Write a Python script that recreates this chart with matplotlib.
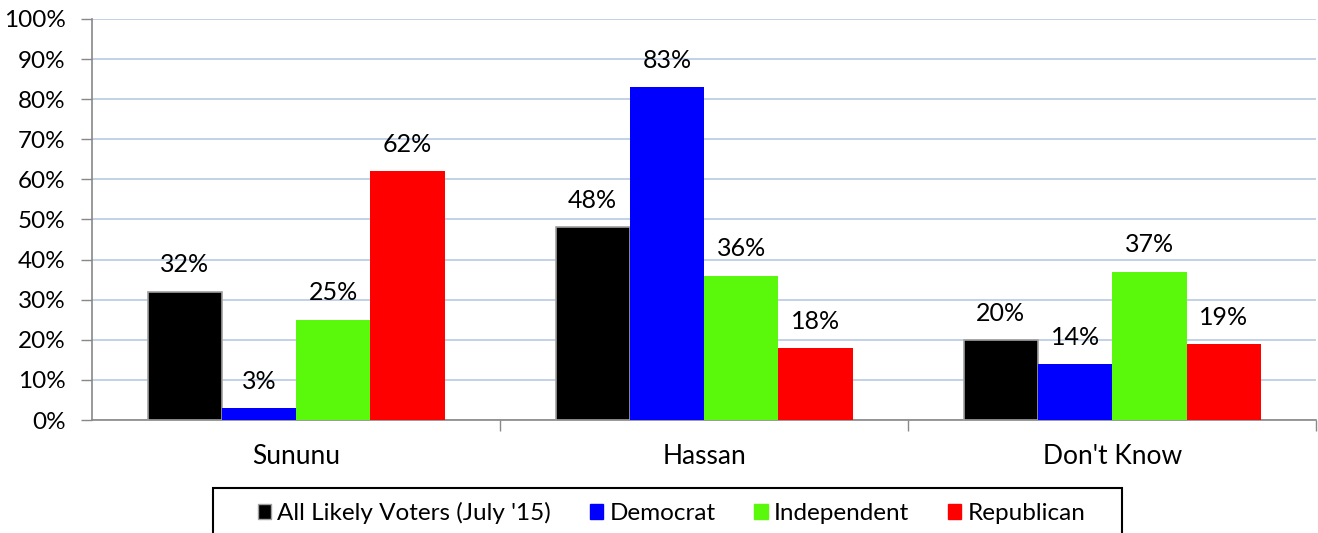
import matplotlib.pyplot as plt
import numpy as np
from matplotlib.patches import Patch, Rectangle

plt.rcParams['font.family'] = ['Lato', 'DejaVu Sans']

categories = ["Sununu", "Hassan", "Don't Know"]
series = ["All Likely Voters (July '15)", "Democrat", "Independent", "Republican"]
all_voters = [32, 48, 20]
democrat = [3, 83, 14]
independent = [25, 36, 37]
republican = [62, 18, 19]
colors = ["#000000", "#0000ff", "#5af80a", "#ff0000"]
edges = ["#a0a0a0", "none", "none", "none"]

values = [all_voters, democrat, independent, republican]

fig = plt.figure(figsize=(13.18, 5.33), dpi=100)
ax = fig.add_axes([0.0698, 0.212, 0.929, 0.7525])

x = np.arange(len(categories))
w = 0.182
for i, (vals, c, ec) in enumerate(zip(values, colors, edges)):
    pos = x + (i - 1.5) * w
    ax.bar(pos, vals, width=w, color=c, edgecolor=ec, linewidth=1.2, zorder=3)
    for p, v in zip(pos, vals):
        ax.annotate(f"{v}%", (p, v), xytext=(0, 11), textcoords="offset points",
                    ha="center", va="bottom", fontsize=18)

ax.set_xlim(-0.5, 2.5)
ax.set_ylim(0, 100)
ax.set_yticks(range(0, 101, 10))
ax.set_yticklabels([f"{t}%" for t in range(0, 101, 10)], fontsize=17.5)
ax.yaxis.grid(True, color="#b9c9e3", linewidth=1.2, zorder=0)
ax.set_axisbelow(True)

ax.set_xticks(x)
ax.set_xticklabels(categories, fontsize=19)
ax.tick_params(axis="x", length=0, pad=17)
ax.set_xticks([0.5, 1.5, 2.5], minor=True)
ax.tick_params(axis="x", which="minor", length=8, color="#888888", width=1)
ax.tick_params(axis="y", length=8, color="#888888", width=1, pad=11)

for s in ["top", "right"]:
    ax.spines[s].set_visible(False)
for s in ["left", "bottom"]:
    ax.spines[s].set_color("#888888")
    ax.spines[s].set_linewidth(1.2)

# legend: entries without frame, box drawn separately
handles = [Patch(facecolor=c, edgecolor=ec if ec != "none" else c) for c, ec in zip(colors, edges)]
leg = fig.legend(handles, series, loc="center", bbox_to_anchor=(0.5095, 0.0375),
                 ncol=4, fontsize=17.5, frameon=False,
                 handlelength=0.55, handleheight=0.55, handletextpad=0.25,
                 columnspacing=1.6, borderpad=0, borderaxespad=0)
fig.patches.append(Rectangle((213 / 1318, -0.05), 909 / 1318, 0.1344, transform=fig.transFigure,
                             fill=False, edgecolor="black", linewidth=1.5))

fig.savefig("out.png", dpi=100)
